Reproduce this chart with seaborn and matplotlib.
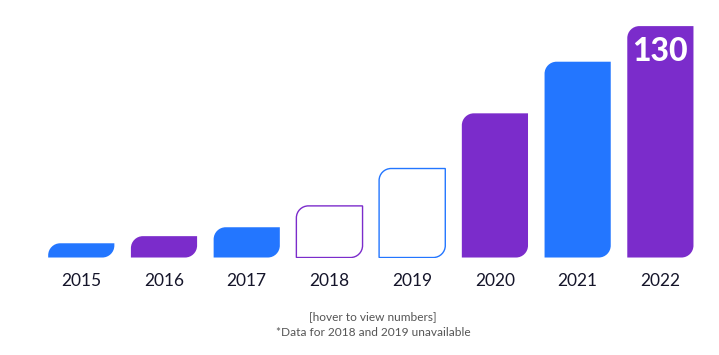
import matplotlib
matplotlib.use("Agg")
import matplotlib.pyplot as plt
from matplotlib.path import Path
from matplotlib.patches import PathPatch
import seaborn as sns

# data
years = ["2015", "2016", "2017", "2018", "2019", "2020", "2021", "2022"]
values = [8, 12, 17, 29, 50, 81, 110, 130]
bar_colors = ["#2376ff", "#7b2ccb", "#2376ff", "#7b2ccb",
              "#2376ff", "#7b2ccb", "#2376ff", "#7b2ccb"]
missing = ["2018", "2019"]   # drawn as outlines only
label_year = "2022"
label_text = "130"

sns.set_theme(style="white")
plt.rcParams["font.family"] = ["Lato", "DejaVu Sans"]

W, H = 719, 355
fig = plt.figure(figsize=(W / 100, H / 100), dpi=100)
ax = fig.add_axes([0.0555, 0.2746, 0.9205, 0.702])

sns.barplot(x=years, y=values, hue=years, palette=dict(zip(years, bar_colors)),
            width=0.8, legend=False, ax=ax)
ax.set_xlim(-0.5, 7.5)
ax.set_ylim(0, 140)

# pixels per data unit, used to keep the corner radius round
px_x = W * 0.9205 / 8
px_y = H * 0.702 / 140
r_px = 12
k = 0.5523


def leaf_path(x0, y0, w, h):
    # rounded top-left and bottom-right corners
    r = min(r_px, h * px_y)
    rx, ry = r / px_x, r / px_y
    verts = [
        (x0, y0),
        (x0, y0 + h - ry),
        (x0, y0 + h - ry + k * ry), (x0 + rx - k * rx, y0 + h), (x0 + rx, y0 + h),
        (x0 + w, y0 + h),
        (x0 + w, y0 + ry),
        (x0 + w, y0 + ry - k * ry), (x0 + w - rx + k * rx, y0), (x0 + w - rx, y0),
        (x0, y0),
    ]
    codes = [Path.MOVETO, Path.LINETO,
             Path.CURVE4, Path.CURVE4, Path.CURVE4,
             Path.LINETO, Path.LINETO,
             Path.CURVE4, Path.CURVE4, Path.CURVE4,
             Path.CLOSEPOLY]
    return Path(verts, codes)


bars = sorted(ax.patches, key=lambda p: p.get_x())
for yr, col, bar in zip(years, bar_colors, bars):
    x0, y0, w, h = bar.get_x(), bar.get_y(), bar.get_width(), bar.get_height()
    bar.set_visible(False)
    if yr in missing:
        patch = PathPatch(leaf_path(x0, y0, w, h), facecolor="white",
                          edgecolor=col, linewidth=1.0)
    else:
        patch = PathPatch(leaf_path(x0, y0, w, h), facecolor=col,
                          edgecolor="none")
    ax.add_patch(patch)
    if yr == label_year:
        ax.text(bar.get_x() + w / 2, y0 + h - 14.5, label_text, color="white",
                ha="center", va="center", fontsize=23, fontweight=900)

for s in ax.spines.values():
    s.set_visible(False)
ax.set_yticks([])
ax.set_ylabel("")
ax.set_xlabel("")
ax.tick_params(axis="x", length=0, pad=11, labelsize=12.5, colors="#15152a")

fig.text(373 / W, 1 - 317 / H, "[hover to view numbers]", ha="center",
         va="center", fontsize=8.6, color="#555555")
fig.text(373 / W, 1 - 333 / H, "*Data for 2018 and 2019 unavailable",
         ha="center", va="center", fontsize=8.6, color="#555555")

fig.savefig("out.png", dpi=100)
